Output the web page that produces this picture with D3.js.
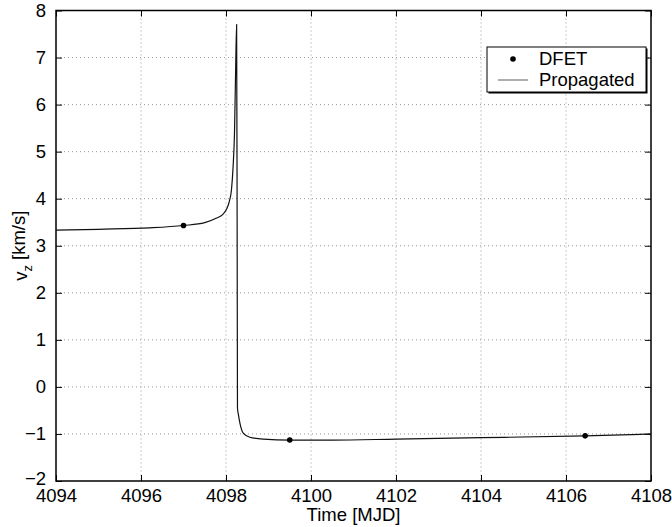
<!DOCTYPE html>
<html>
<head>
<meta charset="utf-8">
<script src="https://cdn.jsdelivr.net/npm/d3@7"></script>
<style>
  body { margin: 0; background: #fff; }
  text { font-family: "Liberation Sans", Arial, sans-serif; fill: #000; }
</style>
</head>
<body>
<script>
// Chart size
const svgWidth = 672;
const svgHeight = 527;

// Plot area edges
const margin = { top: 10.5, right: 21, bottom: 46, left: 56 };
const chartWidth = svgWidth - margin.left - margin.right;
const chartHeight = svgHeight - margin.top - margin.bottom;

// Axis ticks
const xTicks = [4094, 4096, 4098, 4100, 4102, 4104, 4106, 4108];
const yTicks = [-2, -1, 0, 1, 2, 3, 4, 5, 6, 7, 8];

// Propagated trajectory (time in MJD, v_z in km/s)
const propTime = [4094.0, 4095.0, 4096.2, 4097.0, 4097.5, 4097.78, 4097.92, 4098.02, 4098.08,
  4098.13, 4098.165, 4098.2, 4098.228, 4098.25, 4098.262, 4098.27, 4098.29, 4098.33, 4098.41,
  4098.56, 4098.88, 4099.5, 4100.5, 4102.0, 4104.0, 4106.45, 4108.0];
const propVz = [3.33, 3.35, 3.38, 3.43, 3.49, 3.59, 3.66, 3.79, 3.95,
  4.2, 4.65, 5.40, 6.80, 7.70, 3.5, -0.45, -0.58, -0.78, -0.99,
  -1.07, -1.11, -1.13, -1.13, -1.11, -1.08, -1.04, -1.0];

// DFET nodes
const dfetTime = [4097.0, 4099.5, 4106.45];
const dfetVz = [3.43, -1.13, -1.04];

const legendLabels = ["DFET", "Propagated"];

const fontSize = "18.5px";

const svg = d3.select("body")
  .append("svg")
  .attr("width", svgWidth)
  .attr("height", svgHeight);

const chartGroup = svg.append("g")
  .attr("transform", `translate(${margin.left}, ${margin.top})`);

const xScale = d3.scaleLinear().domain([4094, 4108]).range([0, chartWidth]);
const yScale = d3.scaleLinear().domain([-2, 8]).range([chartHeight, 0]);

// Dotted grid
chartGroup.append("g")
  .selectAll("line")
  .data(xTicks.slice(1, -1))
  .join("line")
  .attr("x1", d => xScale(d)).attr("x2", d => xScale(d))
  .attr("y1", 0).attr("y2", chartHeight)
  .attr("stroke", "#999").attr("stroke-dasharray", "1,3");

chartGroup.append("g")
  .selectAll("line")
  .data(yTicks.slice(1, -1))
  .join("line")
  .attr("x1", 0).attr("x2", chartWidth)
  .attr("y1", d => yScale(d)).attr("y2", d => yScale(d))
  .attr("stroke", "#999").attr("stroke-dasharray", "1,3");

// Axes with inward ticks on all four sides
const fmt = d => d < 0 ? "\u2212" + Math.abs(d) : String(d);
const tickLen = 6;

const bottomAxis = chartGroup.append("g")
  .attr("transform", `translate(0, ${chartHeight})`)
  .call(d3.axisBottom(xScale).tickValues(xTicks).tickSize(-tickLen).tickPadding(21).tickFormat(fmt));
const topAxis = chartGroup.append("g")
  .call(d3.axisTop(xScale).tickValues(xTicks).tickSize(-tickLen).tickFormat(""));
const leftAxis = chartGroup.append("g")
  .call(d3.axisLeft(yScale).tickValues(yTicks).tickSize(-tickLen).tickPadding(10).tickFormat(fmt));
const rightAxis = chartGroup.append("g")
  .attr("transform", `translate(${chartWidth}, 0)`)
  .call(d3.axisRight(yScale).tickValues(yTicks).tickSize(-tickLen).tickFormat(""));

[bottomAxis, topAxis, leftAxis, rightAxis].forEach(g => {
  g.select(".domain").remove();
  g.selectAll(".tick line").attr("stroke", "#000");
  g.selectAll("text").style("font-size", fontSize).attr("fill", "#000");
});
bottomAxis.selectAll("text").attr("dy", "0");
// lowest y label sits a little higher, as in the reference
leftAxis.selectAll(".tick text").filter(d => d === -2).attr("dy", "0.2em");

// Box
chartGroup.append("rect")
  .attr("width", chartWidth).attr("height", chartHeight)
  .attr("fill", "none").attr("stroke", "#000").attr("stroke-width", 1.5);

// Propagated line
const propData = propTime.map((t, i) => ({ t: t, v: propVz[i] }));
const createLine = d3.line()
  .x(d => xScale(d.t))
  .y(d => yScale(d.v))
  .curve(d3.curveMonotoneX);

chartGroup.append("path")
  .attr("d", createLine(propData))
  .attr("fill", "none")
  .attr("stroke", "#111")
  .attr("stroke-width", 1.2);

// DFET markers
chartGroup.selectAll("circle")
  .data(dfetTime.map((t, i) => ({ t: t, v: dfetVz[i] })))
  .join("circle")
  .attr("cx", d => xScale(d.t))
  .attr("cy", d => yScale(d.v))
  .attr("r", 2.8)
  .attr("fill", "#000");

// Legend
const legend = svg.append("g").attr("transform", "translate(487, 47)");
legend.append("rect")
  .attr("x", 1.5).attr("y", 1.5).attr("width", 159).attr("height", 45)
  .attr("fill", "#000");
legend.append("rect")
  .attr("width", 159).attr("height", 45)
  .attr("fill", "#fff").attr("stroke", "#000").attr("stroke-width", 1);

legend.append("circle").attr("cx", 26).attr("cy", 12).attr("r", 2.8).attr("fill", "#000");
legend.append("line")
  .attr("x1", 11).attr("x2", 41).attr("y1", 33).attr("y2", 33)
  .attr("stroke", "#777").attr("stroke-width", 1.2);

legend.selectAll("text")
  .data(legendLabels)
  .join("text")
  .attr("x", 52)
  .attr("y", (d, i) => 12 + i * 21)
  .attr("dy", "0.35em")
  .style("font-size", fontSize)
  .text(d => d);

// Axis labels
svg.append("text")
  .attr("x", margin.left + chartWidth / 2)
  .attr("y", 521)
  .attr("text-anchor", "middle")
  .style("font-size", fontSize)
  .text("Time [MJD]");

const yLabel = svg.append("text")
  .attr("transform", `translate(27, ${margin.top + chartHeight / 2}) rotate(-90)`)
  .attr("text-anchor", "middle")
  .style("font-size", fontSize);
yLabel.append("tspan").text("v");
yLabel.append("tspan").attr("dy", "0.35em").style("font-size", "13px").text("z");
yLabel.append("tspan").attr("dy", "-0.35em").text(" [km/s]");
</script>
</body>
</html>
